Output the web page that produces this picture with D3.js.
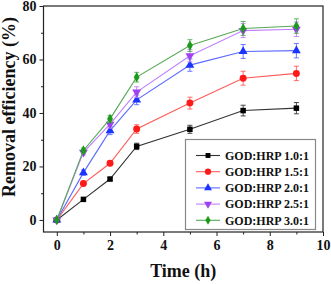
<!DOCTYPE html>
<html>
<head>
<meta charset="utf-8">
<script src="https://cdn.jsdelivr.net/npm/d3@7"></script>
<style>
  body { margin: 0; background: #fff; }
  text { font-family: "Liberation Serif", "Times New Roman", serif; font-weight: bold; }
</style>
</head>
<body>
<svg id="chart" width="331" height="284"></svg>
<script>
const times = [0, 1, 2, 3, 5, 7, 9];
const seriesNames = ["GOD:HRP 1.0:1", "GOD:HRP 1.5:1", "GOD:HRP 2.0:1", "GOD:HRP 2.5:1", "GOD:HRP 3.0:1"];
const ratio10 = [0, 7.7, 15.3, 27.5, 33.9, 40.9, 41.8];
const ratio15 = [0, 13.6, 21.2, 34.0, 43.7, 53.0, 54.8];
const ratio20 = [0, 17.7, 33.4, 44.9, 57.9, 63.0, 63.3];
const ratio25 = [0, 25.3, 35.8, 47.8, 61.4, 70.8, 71.3];
const ratio30 = [0, 26.0, 37.8, 53.4, 65.2, 71.6, 72.5];
const err10 = [0, 0.5, 0.6, 1.2, 1.5, 2.0, 2.1];
const err15 = [0, 0.8, 0.9, 1.6, 2.2, 2.6, 2.7];
const err20 = [0, 1.0, 1.5, 1.8, 2.3, 2.6, 2.7];
const err25 = [0, 1.0, 1.5, 2.0, 2.3, 2.6, 2.7];
const err30 = [0, 0.9, 1.3, 1.8, 2.2, 2.6, 2.7];
const xTicks = [0, 2, 4, 6, 8, 10];
const yTicks = [0, 20, 40, 60, 80];

const colors = ["#000000", "#ff1a1a", "#1a33ff", "#a040f0", "#1c9a1c"];
const lineColors = ["#333333", "#ff5a5a", "#5a6aff", "#c080ff", "#55aa55"];
const symbols = [d3.symbolSquare, d3.symbolCircle, d3.symbolTriangle, d3.symbolTriangle, d3.symbolDiamond];
const symSize = [30, 38, 34, 34, 30];

const allValues = [ratio10, ratio15, ratio20, ratio25, ratio30];
const allErrors = [err10, err15, err20, err25, err30];

const svg = d3.select("#chart");
const margin = { left: 43.5, right: 8, top: 6, bottom: 52 };
const W = 331, H = 284;

const x = d3.scaleLinear().domain([-0.5, 10]).range([margin.left, W - margin.right]);
const y = d3.scaleLinear().domain([-4.5, 80]).range([H - margin.bottom, margin.top]);

// frame
svg.append("rect")
  .attr("x", x(-0.5)).attr("y", y(80))
  .attr("width", x(10) - x(-0.5)).attr("height", y(-4.5) - y(80))
  .attr("fill", "none").attr("stroke", "#222").attr("stroke-width", 1.2);

// axes
const xAxis = svg.append("g").attr("transform", `translate(0,${y(-4.5)})`)
  .call(d3.axisBottom(x).tickValues(xTicks).tickSize(4).tickPadding(4).tickFormat(d3.format("d")));
svg.append("g").attr("transform", `translate(0,${y(-4.5)})`)
  .call(d3.axisBottom(x).tickValues([1, 3, 5, 7, 9]).tickSize(2.5).tickFormat(""));
const yAxis = svg.append("g").attr("transform", `translate(${x(-0.5)},0)`)
  .call(d3.axisLeft(y).tickValues(yTicks).tickSize(4).tickPadding(3));
svg.append("g").attr("transform", `translate(${x(-0.5)},0)`)
  .call(d3.axisLeft(y).tickValues([10, 30, 50, 70]).tickSize(2.5).tickFormat(""));

svg.selectAll(".domain").attr("stroke", "none");
svg.selectAll(".tick line").attr("stroke", "#222").attr("stroke-width", 1);
svg.selectAll(".tick text")
  .attr("font-size", 14).attr("fill", "#111")
  .attr("font-family", "Liberation Serif, serif").attr("font-weight", "bold");

// axis titles
svg.append("text").attr("x", (x(-0.5) + x(10)) / 2).attr("y", 277)
  .attr("text-anchor", "middle").attr("font-size", 18).attr("fill", "#111")
  .text("Time (h)");
svg.append("text")
  .attr("transform", `translate(15,${(y(80) + y(-4.5)) / 2 - 12}) rotate(-90)`)
  .attr("text-anchor", "middle").attr("font-size", 18).attr("fill", "#111")
  .text("Removal efficiency (%)");

const line = d3.line().x(d => x(d[0])).y(d => y(d[1]));

allValues.forEach((vals, i) => {
  const pts = times.map((t, j) => [t, vals[j], allErrors[i][j]]);
  const g = svg.append("g");
  g.append("path").datum(pts).attr("d", line)
    .attr("fill", "none").attr("stroke", lineColors[i]).attr("stroke-width", 1.1);
  // error bars
  pts.filter(p => p[2] > 0).forEach(p => {
    const cx = x(p[0]);
    g.append("line").attr("x1", cx).attr("x2", cx).attr("y1", y(p[1] - p[2])).attr("y2", y(p[1] + p[2]))
      .attr("stroke", lineColors[i]).attr("stroke-width", 0.9);
    [p[1] - p[2], p[1] + p[2]].forEach(v => {
      g.append("line").attr("x1", cx - 2.5).attr("x2", cx + 2.5).attr("y1", y(v)).attr("y2", y(v))
        .attr("stroke", lineColors[i]).attr("stroke-width", 0.9);
    });
  });
  g.selectAll("path.m").data(pts).join("path").attr("class", "m")
    .attr("d", d3.symbol(symbols[i], symSize[i]))
    .attr("transform", d => `translate(${x(d[0])},${y(d[1])})${i === 3 ? " rotate(180)" : ""}`)
    .attr("fill", colors[i]);
});

// legend
const lg = svg.append("g");
lg.append("rect").attr("x", 185.5).attr("y", 139.5).attr("width", 130).attr("height", 90)
  .attr("fill", "#fff").attr("stroke", "#888").attr("stroke-width", 1.2);
seriesNames.forEach((name, i) => {
  const yy = 155.5 + i * 16.2;
  lg.append("line").attr("x1", 196).attr("x2", 220).attr("y1", yy).attr("y2", yy)
    .attr("stroke", lineColors[i]).attr("stroke-width", 1.1);
  lg.append("path").attr("d", d3.symbol(symbols[i], symSize[i] * 0.8))
    .attr("transform", `translate(208,${yy})${i === 3 ? " rotate(180)" : ""}`)
    .attr("fill", colors[i]);
  lg.append("text").attr("x", 225).attr("y", yy + 4.2).attr("font-size", 12).attr("fill", "#111")
    .text(name);
});
</script>
</body>
</html>
